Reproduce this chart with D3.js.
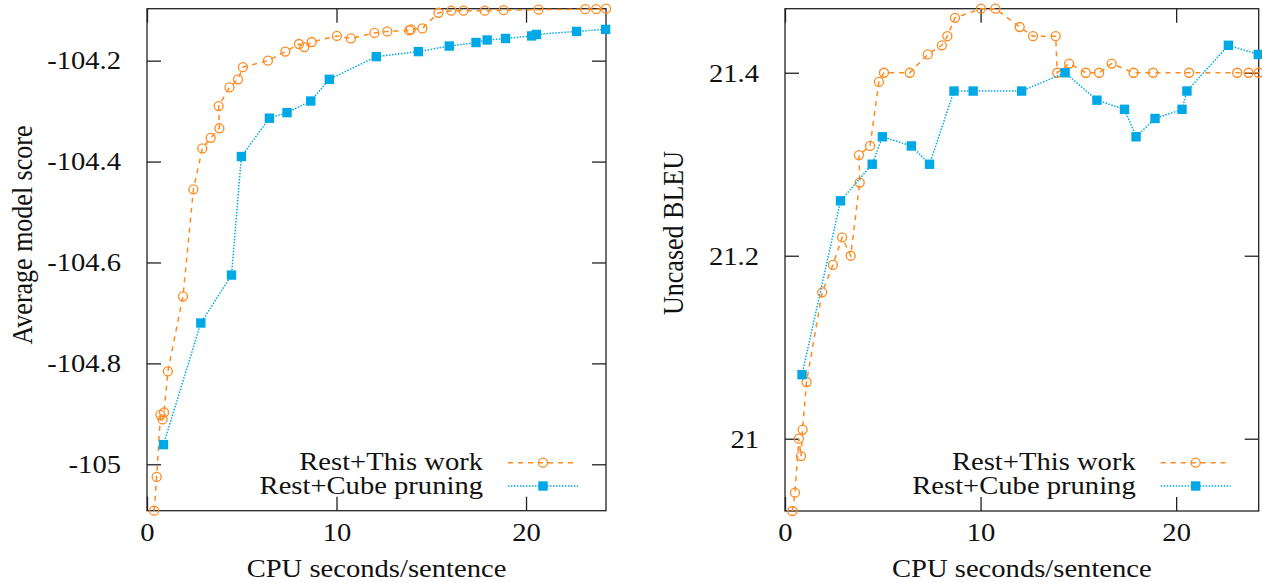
<!DOCTYPE html>
<html>
<head>
<meta charset="utf-8">
<script src="https://cdn.jsdelivr.net/npm/d3@7"></script>
<style>
  body { margin: 0; background: #fff; }
  text { font-family: "Liberation Serif", "Times New Roman", serif; fill: #111; }
</style>
</head>
<body>
<div id="chart"></div>
<script>
// runs of "Rest+This work" (same runs in both panels, in beam order)
const thisWorkCpu = [0.38, 0.51, 0.71, 0.82, 0.90, 1.10, 1.90, 2.45, 2.92, 3.36, 3.82, 3.78,
  4.35, 4.80, 5.06, 6.38, 7.30, 8.02, 8.30, 8.69, 10.02, 10.76, 12.00, 12.68, 13.84, 13.92,
  14.53, 15.38, 16.06, 16.70, 17.82, 18.82, 20.66, 23.12, 23.70, 24.22];
const thisWorkScore = [-105.092, -105.025, -104.902, -104.911, -104.897, -104.816, -104.667,
  -104.455, -104.374, -104.353, -104.334, -104.290, -104.253, -104.237, -104.213, -104.200,
  -104.182, -104.167, -104.173, -104.163, -104.151, -104.156, -104.145, -104.142, -104.140,
  -104.138, -104.136, -104.105, -104.101, -104.101, -104.101, -104.100, -104.099, -104.098,
  -104.098, -104.097];
const thisWorkBleu = [20.921, 20.941, 21.00, 20.981, 21.01, 21.062, 21.16, 21.19, 21.22, 21.20,
  21.28, 21.31, 21.32, 21.39, 21.40, 21.40, 21.42, 21.43, 21.44, 21.46, 21.47, 21.47, 21.45,
  21.44, 21.44, 21.40, 21.41, 21.40, 21.40, 21.41, 21.40, 21.40, 21.40, 21.40, 21.40, 21.40];

// runs of "Rest+Cube pruning"
const cubeCpu = [0.87, 2.84, 4.46, 4.98, 6.46, 7.39, 8.64, 9.62, 12.10, 14.32, 15.95, 17.36,
  17.95, 18.92, 20.30, 20.55, 22.67, 24.20];
const cubeScore = [-104.961, -104.720, -104.625, -104.390, -104.314, -104.303, -104.280,
  -104.237, -104.192, -104.182, -104.171, -104.164, -104.159, -104.156, -104.151, -104.148,
  -104.142, -104.138];
const cubeBleu = [21.07, 21.26, 21.30, 21.33, 21.32, 21.30, 21.38, 21.38, 21.38, 21.40, 21.37,
  21.36, 21.33, 21.35, 21.36, 21.38, 21.43, 21.42];

const xTicks = [0, 10, 20];
const scoreTicks = [-105, -104.8, -104.6, -104.4, -104.2];
const bleuTicks = [21, 21.2, 21.4];
const seriesNames = ["Rest+This work", "Rest+Cube pruning"];
const xTitle = "CPU seconds/sentence";

const W = 1262, H = 583;
const SX = 1.1;           // the original glyphs are a bit wider than tall
const FS = 26;
const ORANGE = "#ff8a1f", BLUE = "#00a9e6";

const svg = d3.select("#chart").append("svg")
  .attr("width", W).attr("height", H);
svg.append("rect").attr("width", W).attr("height", H).attr("fill", "#fff");

const fmt = d => String(+d.toFixed(1)).replace("\u2212", "-");

function stretchText(sel) {
  sel.each(function () {
    const t = d3.select(this);
    const x = +t.attr("x") || 0;
    t.attr("x", x / SX).attr("transform", `scale(${SX},1)`);
  });
}

function panel(box, yTicks, yTitle, titleX, titleY, series) {
  const allX = series.flatMap(s => s.x);
  const allY = series.flatMap(s => s.y);
  const x = d3.scaleLinear().domain([0, d3.max(allX)]).range([box.left, box.right]);
  const y = d3.scaleLinear().domain(d3.extent(allY)).range([box.bottom, box.top]);

  const g = svg.append("g");

  // axes with inward ticks on all sides
  const ax = g.append("g").attr("transform", `translate(0,${box.bottom})`)
    .call(d3.axisBottom(x).tickValues(xTicks).tickSize(-14).tickPadding(12).tickFormat(fmt));
  g.append("g").attr("transform", `translate(0,${box.top})`)
    .call(d3.axisTop(x).tickValues(xTicks).tickSize(-14).tickFormat(""));
  const ay = g.append("g").attr("transform", `translate(${box.left},0)`)
    .call(d3.axisLeft(y).tickValues(yTicks).tickSize(-14).tickPadding(26).tickFormat(fmt));
  g.append("g").attr("transform", `translate(${box.right},0)`)
    .call(d3.axisRight(y).tickValues(yTicks).tickSize(-14).tickFormat(""));
  g.selectAll(".domain").remove();
  g.selectAll(".tick line").attr("stroke", "#222").attr("stroke-width", 1.3);
  g.selectAll(".tick text").attr("font-size", FS).attr("fill", "#111")
    .attr("font-family", '"Liberation Serif", serif');
  ay.selectAll(".tick text").attr("dy", "0.32em");
  stretchText(ax.selectAll(".tick text"));
  stretchText(ay.selectAll(".tick text"));

  g.append("rect")
    .attr("x", box.left).attr("y", box.top)
    .attr("width", box.right - box.left).attr("height", box.bottom - box.top)
    .attr("fill", "none").attr("stroke", "#222").attr("stroke-width", 1.3);

  // titles
  const cx = (box.left + box.right) / 2;
  g.append("text").attr("text-anchor", "middle").attr("font-size", FS)
    .attr("transform", `translate(${cx},577) scale(${SX},1)`).text(xTitle);
  g.append("text").attr("text-anchor", "middle").attr("font-size", FS)
    .attr("transform", `translate(${titleX},${titleY}) scale(${SX},1) rotate(-90)`).text(yTitle);

  // series
  series.forEach(s => {
    const pts = s.x.map((v, i) => [v, s.y[i]]);
    g.append("path").datum(pts)
      .attr("fill", "none").attr("stroke", s.color).attr("stroke-width", 1.5)
      .attr("stroke-dasharray", s.dash)
      .attr("d", d3.line().x(d => x(d[0])).y(d => y(d[1])));
    drawMarks(g, pts.map(d => [x(d[0]), y(d[1])]), s);
  });

  // legend
  series.forEach((s, i) => {
    const ly = 462.7 + i * 23.3;
    g.append("text").attr("text-anchor", "end").attr("font-size", FS)
      .attr("transform", `translate(${box.right - 123},${ly + 7.5}) scale(${SX},1)`)
      .text(s.name);
    g.append("line")
      .attr("x1", box.right - 98).attr("x2", box.right - 28)
      .attr("y1", ly).attr("y2", ly)
      .attr("stroke", s.color).attr("stroke-width", 1.5).attr("stroke-dasharray", s.dash);
    drawMarks(g, [[box.right - 63, ly]], s);
  });
}

function drawMarks(g, pts, s) {
  if (s.mark === "circle") {
    g.selectAll(null).data(pts).join("circle")
      .attr("cx", d => d[0]).attr("cy", d => d[1]).attr("r", 4.5)
      .attr("fill", "none").attr("stroke", s.color).attr("stroke-width", 1.3);
  } else {
    g.selectAll(null).data(pts).join("rect")
      .attr("x", d => d[0] - 4.7).attr("y", d => d[1] - 4.7)
      .attr("width", 9.4).attr("height", 9.4).attr("fill", s.color);
  }
}

panel({ left: 147, right: 606, top: 8.7, bottom: 510.7 }, scoreTicks,
  "Average model score", 31.5, 235, [
    { name: seriesNames[0], x: thisWorkCpu, y: thisWorkScore, color: ORANGE, dash: "5,5", mark: "circle" },
    { name: seriesNames[1], x: cubeCpu, y: cubeScore, color: BLUE, dash: "1.5,1.5", mark: "square" }
  ]);

panel({ left: 785, right: 1258.7, top: 8.7, bottom: 511 }, bleuTicks,
  "Uncased BLEU", 683, 233, [
    { name: seriesNames[0], x: thisWorkCpu, y: thisWorkBleu, color: ORANGE, dash: "5,5", mark: "circle" },
    { name: seriesNames[1], x: cubeCpu, y: cubeBleu, color: BLUE, dash: "1.5,1.5", mark: "square" }
  ]);
</script>
</body>
</html>
